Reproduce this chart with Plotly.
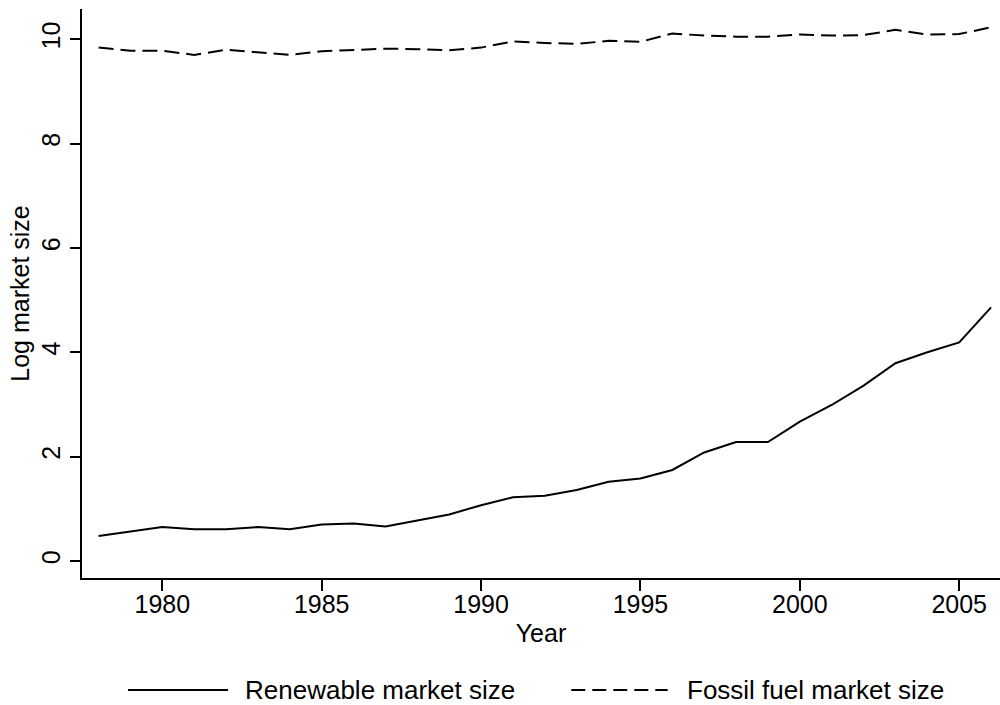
import plotly.graph_objects as go

years = list(range(1978, 2007))
renewable = [0.48, 0.56, 0.65, 0.61, 0.61, 0.65, 0.61, 0.70, 0.72, 0.66,
             0.77, 0.89, 1.07, 1.22, 1.25, 1.36, 1.52, 1.58, 1.745, 2.08,
             2.28, 2.28, 2.67, 2.99, 3.36, 3.79, 4.00, 4.19, 4.86]
fossil = [9.84, 9.78, 9.78, 9.70, 9.80, 9.75, 9.70, 9.77, 9.79, 9.82,
          9.81, 9.79, 9.84, 9.96, 9.93, 9.91, 9.97, 9.95, 10.11, 10.07,
          10.05, 10.05, 10.09, 10.07, 10.08, 10.18, 10.09, 10.10, 10.23]
x_ticks = [1980, 1985, 1990, 1995, 2000, 2005]
y_ticks = [0, 2, 4, 6, 8, 10]
labels = ["Renewable market size", "Fossil fuel market size"]

FONT = "Liberation Sans, Arial, sans-serif"
FS = 25
LFS = 26

fig = go.Figure()
fig.add_trace(go.Scatter(x=years, y=renewable, mode="lines", name=labels[0],
                         line=dict(color="black", width=2), showlegend=False))
fig.add_trace(go.Scatter(x=years, y=fossil, mode="lines", name=labels[1],
                         line=dict(color="black", width=2, dash="15px,7px"), showlegend=False))

# custom legend (long line samples)
leg_y = -0.197
fig.add_shape(type="line", xref="paper", yref="paper", x0=0.0501, x1=0.159, y0=leg_y, y1=leg_y,
              line=dict(color="black", width=2))
fig.add_annotation(xref="paper", yref="paper", x=0.175, y=leg_y, text=labels[0], showarrow=False,
                   xanchor="left", yanchor="middle", font=dict(family=FONT, size=LFS, color="black"))
fig.add_shape(type="line", xref="paper", yref="paper", x0=0.533, x1=0.638, y0=leg_y, y1=leg_y,
              line=dict(color="black", width=2, dash="14px,7px"))
fig.add_annotation(xref="paper", yref="paper", x=0.657, y=leg_y, text=labels[1], showarrow=False,
                   xanchor="left", yanchor="middle", font=dict(family=FONT, size=LFS, color="black"))

fig.update_layout(
    width=1000, height=705,
    margin=dict(l=82, r=0, t=9, b=127),
    paper_bgcolor="white", plot_bgcolor="white",
    font=dict(family=FONT, size=FS, color="black"),
    xaxis=dict(range=[1977.48, 2006.28], tickvals=x_ticks, showgrid=False, zeroline=False,
               showline=True, linecolor="black", linewidth=1.5, ticks="outside", ticklen=11,
               tickwidth=1.5, tickcolor="black", automargin=False, ticklabelstandoff=-8,
               title=dict(text="Year", standoff=8, font=dict(size=FS))),
    yaxis=dict(range=[-0.326, 10.58], tickvals=y_ticks, showgrid=False, zeroline=False,
               showline=True, linecolor="black", linewidth=1.5, ticks="outside", ticklen=10,
               tickwidth=1.5, tickcolor="black", tickangle=-90, automargin=False,
               ticklabelstandoff=0,
               title=dict(text="Log market size", standoff=1, font=dict(size=FS))),
)

fig.write_html("out.html", config={"displayModeBar": False},
               post_script="document.body.style.margin='0px';document.body.style.overflow='hidden';")
